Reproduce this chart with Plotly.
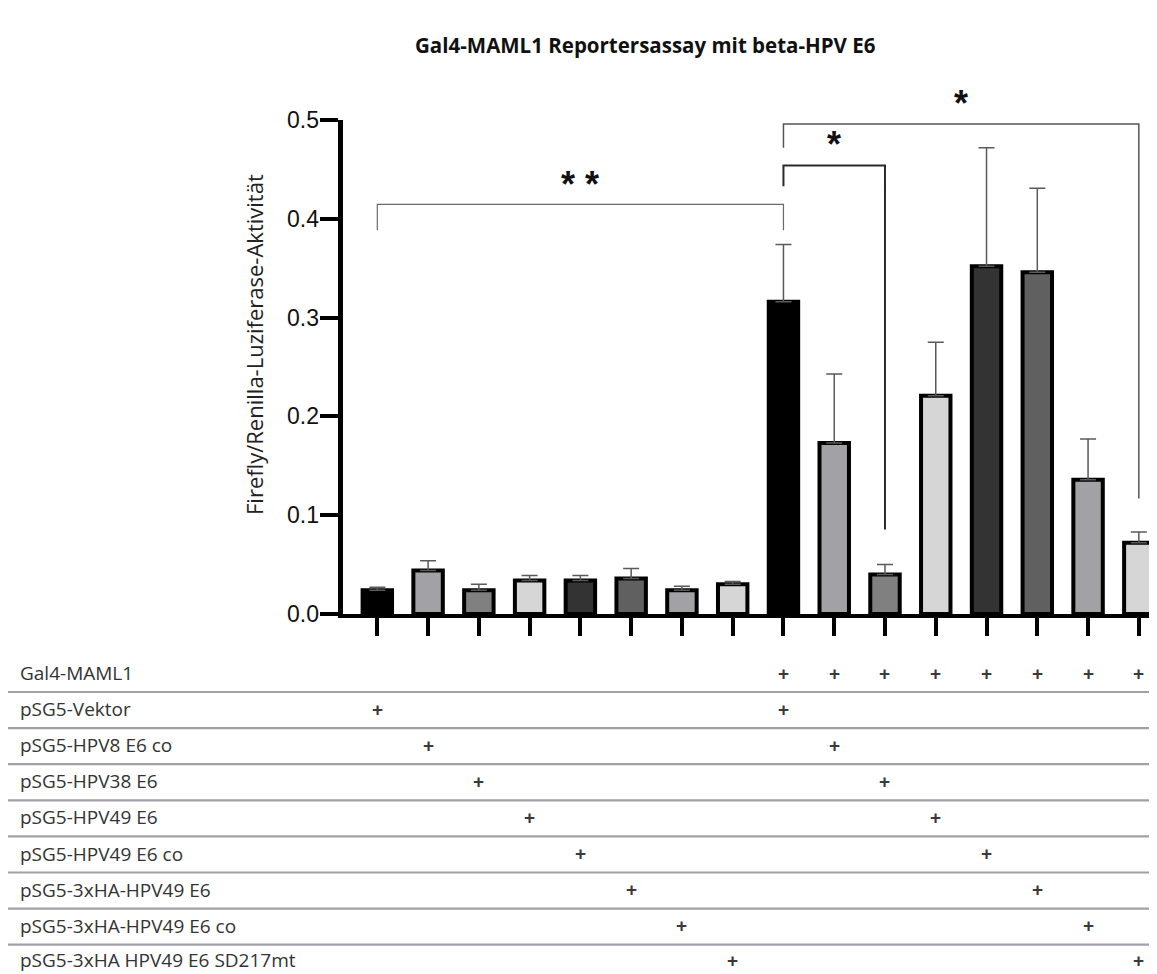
import plotly.graph_objects as go

# ---------------- data ----------------
title_text = "Gal4-MAML1 Reportersassay mit beta-HPV E6"
y_title = "Firefly/Renilla-Luziferase-Aktivität"

conditions = list(range(16))
means = [0.024, 0.044, 0.024, 0.034, 0.034, 0.036, 0.024, 0.030,
         0.316, 0.173, 0.040, 0.221, 0.352, 0.346, 0.136, 0.072]
errors = [0.003, 0.010, 0.006, 0.005, 0.005, 0.010, 0.004, 0.003,
          0.058, 0.070, 0.010, 0.054, 0.120, 0.085, 0.041, 0.011]
bar_colors = ["#000000", "#a2a1a6", "#808080", "#d6d6d6", "#333333", "#606060", "#a2a1a6", "#d6d6d6",
              "#000000", "#a2a1a6", "#808080", "#d6d6d6", "#333333", "#606060", "#a2a1a6", "#d6d6d6"]

row_labels = ["Gal4-MAML1", "pSG5-Vektor", "pSG5-HPV8 E6 co", "pSG5-HPV38 E6",
              "pSG5-HPV49 E6", "pSG5-HPV49 E6 co", "pSG5-3xHA-HPV49 E6",
              "pSG5-3xHA-HPV49 E6 co", "pSG5-3xHA HPV49 E6 SD217mt"]
row_plus = [
    [8, 9, 10, 11, 12, 13, 14, 15],
    [0, 8],
    [1, 9],
    [2, 10],
    [3, 11],
    [4, 12],
    [5, 13],
    [6, 14],
    [7, 15],
]

# significance brackets: (left, right, level, left drop, right drop, label, label centre)
brackets = [
    (0, 8, 0.4146, 0.3885, 0.3885, "* *", 0.440),
    (8, 10, 0.454, 0.433, 0.0856, "*", 0.480),
    (8, 15, 0.496, 0.472, 0.117, "*", 0.522),
]
y_ticks = [0.0, 0.1, 0.2, 0.3, 0.4, 0.5]

# ---------------- figure ----------------
OFF = 8  # page body margin
W, H = 1157 - OFF, 974 - OFF
Y0_PIX, Y5_PIX = 614, 120
def px(x):
    return (x - OFF) / W
def py(y):
    return 1 - (y - OFF) / H
def vpaper(v):
    return py(Y0_PIX - v * (Y0_PIX - Y5_PIX) / 0.5)

fig = go.Figure()
fig.add_trace(go.Bar(
    x=conditions, y=means, width=0.58,
    marker=dict(color=bar_colors, line=dict(color="#000000", width=4)),
    error_y=dict(type="data", array=errors, arrayminus=[0] * len(errors), symmetric=False,
                 color="#5a5a5a", thickness=1.5, width=8),
    showlegend=False, hoverinfo="skip",
))

shapes = []
annotations = []
bracket_styles = [("#6a6a6a", 1.2), ("#2a2a2a", 2), ("#555555", 1.5)]
for (l, r, lev, dl, dr, lab, ly), (col, lw) in zip(brackets, bracket_styles):
    fig.add_trace(go.Scatter(
        x=[l, l, r, r], y=[dl, lev, lev, dr], mode="lines",
        line=dict(color=col, width=lw), showlegend=False, hoverinfo="skip", cliponaxis=False))
    annotations.append(dict(x=(l + r) / 2, y=vpaper(ly), xref="x", yref="paper", text="<b>" + lab + "</b>",
                            showarrow=False, yanchor="middle", yshift=-5,
                            font=dict(family="Liberation Sans", size=36, color="#111111")))

# y tick labels
for v in y_ticks:
    annotations.append(dict(x=px(321), y=vpaper(v), xref="paper", yref="paper", text=f"{v:.1f}",
                            xanchor="right", yanchor="middle", showarrow=False,
                            font=dict(family="Liberation Sans", size=23, color="#111111")))

# table
row_y0, row_dy = 673, 36.1
line_y0 = 692
for i, lab in enumerate(row_labels):
    yy = py(min(row_y0 + i * row_dy, 960))
    annotations.append(dict(x=px(18), y=yy, xref="paper", yref="paper", text=lab,
                            xanchor="left", yanchor="middle", showarrow=False,
                            font=dict(family="Open Sans", size=19, color="#333333")))
    for c in row_plus[i]:
        annotations.append(dict(x=c, y=yy, xref="x", yref="paper", text="<b>+</b>",
                                xanchor="center", yanchor="middle", showarrow=False,
                                font=dict(family="Liberation Sans", size=19, color="#3a3a3a")))
for i in range(len(row_labels) - 1):
    yy = py(line_y0 + i * row_dy)
    shapes.append(dict(type="line", xref="paper", yref="paper", x0=px(8), x1=px(1153),
                       y0=yy, y1=yy, line=dict(color="#a0a0a6", width=2.2)))

# title and y title
annotations.append(dict(x=px(645), y=py(45), xref="paper", yref="paper", text="<b>" + title_text + "</b>",
                        showarrow=False, xanchor="center", yanchor="middle",
                        font=dict(family="Open Sans", size=20.5, color="#111111")))
annotations.append(dict(x=px(254), y=py(344), xref="paper", yref="paper", text=y_title,
                        showarrow=False, xanchor="center", yanchor="middle", textangle=-90,
                        font=dict(family="Open Sans", size=22, color="#222222")))

fig.update_layout(
    width=W, height=H, margin=dict(l=0, r=0, t=0, b=0),
    paper_bgcolor="white", plot_bgcolor="white",
    shapes=shapes, annotations=annotations, showlegend=False,
    xaxis=dict(domain=[px(343), 1.0], range=[-0.676, 15.517 - OFF / 50.27], tickmode="array",
               tickvals=conditions, ticktext=[""] * len(conditions),
               ticks="outside", ticklen=18, tickwidth=4, tickcolor="#000000",
               showline=True, linecolor="#000000", linewidth=3.5,
               showgrid=False, zeroline=False, automargin=False, fixedrange=True),
    yaxis=dict(domain=[py(Y0_PIX), py(Y5_PIX)], range=[0, 0.5], tickmode="array",
               tickvals=y_ticks, showticklabels=False,
               ticks="outside", ticklen=18, tickwidth=4, tickcolor="#000000",
               showline=True, linecolor="#000000", linewidth=4.5,
               showgrid=False, zeroline=False, automargin=False, fixedrange=True),
)

fig.write_html("out.html")
